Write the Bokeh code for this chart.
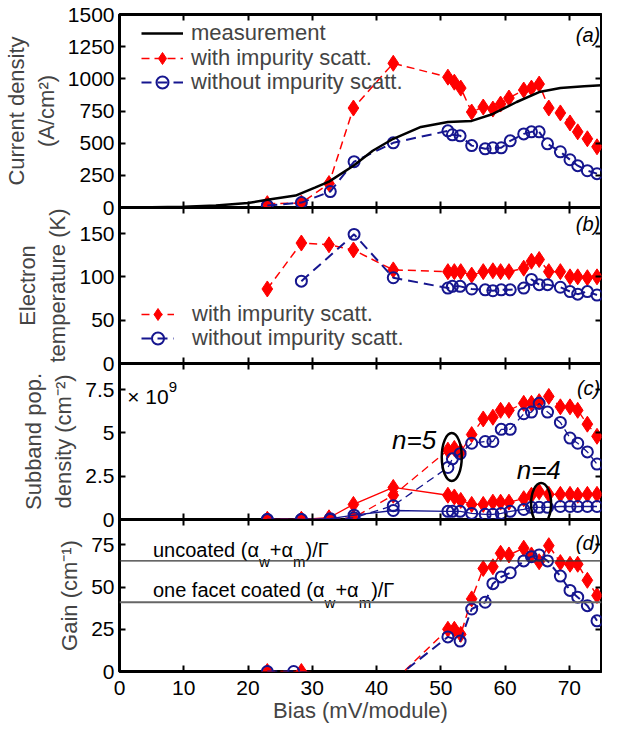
from bokeh.plotting import figure
from bokeh.models import (LinearAxis, FixedTicker, CustomJSTickFormatter, Legend,
                          LegendItem, Range1d, Span)
from bokeh.layouts import column
from bokeh.embed import file_html
from bokeh.resources import INLINE
from bokeh.core.properties import value

# ---------------- data ----------------
x_ticks = [0, 10, 20, 30, 40, 50, 60, 70]

bias_with = [23.0, 28.3, 32.6, 36.4, 42.6, 51.1, 52.1, 53.1, 54.8, 56.6, 58.1, 59.3,
             60.6, 62.9, 64.1, 65.3, 66.8, 68.6, 70.1, 71.3, 72.8, 74.3]
bias_without = [23.0, 28.3, 32.8, 36.5, 42.6, 51.1, 51.8, 53.0, 54.8, 56.9, 58.1, 59.4,
                60.8, 62.9, 64.1, 65.3, 66.6, 68.6, 70.1, 71.3, 72.8, 74.3]

# (a) current density
meas_bias = [0, 5, 10, 15, 20, 23, 27.4, 30.4, 32.6, 36.4, 39.4, 42.6, 46.9, 51.1,
             54.8, 58.1, 61.8, 65.3, 68.6, 72.3, 75]
meas_current = [0, 1, 5, 15, 35, 60, 93, 155, 201, 325, 441, 534, 626, 665,
                673, 727, 820, 897, 928, 943, 951]
current_with = [30, 35, 186, 773, 1121, 1013, 974, 928, 742, 781, 765, 804, 851, 913,
                928, 959, 773, 735, 657, 588, 534, 472]
current_without = [15, 38, 124, 356, 503, 596, 565, 557, 481, 456, 464, 464, 518, 572,
                   588, 588, 495, 433, 371, 325, 286, 263]

# (b) electron temperature
temp_with = [86, 139, 137, 131, 108, 106, 106, 106, 102, 106, 107, 106, 106, 110,
             118, 120, 106, 106, 100, 100, 99, 100]
bias_without_b = [28.3, 36.5, 42.6, 51.1, 51.8, 53.0, 54.8, 56.9, 58.1, 59.4, 60.8,
                  62.9, 64.1, 65.3, 66.6, 68.6, 70.1, 71.3, 72.8, 74.3]
temp_without = [95, 149, 99, 87, 89, 89, 86, 85, 84, 85, 85, 87, 97, 91, 91, 88,
                83, 80, 83, 79]

# (c) subband population (x 1e9 cm^-2)
pop5_with = [0, 0, 0.05, 0.1, 1.4, 4.0, 4.1, 3.9, 4.9, 5.8, 5.9, 6.3, 6.3, 6.7, 6.7,
             6.8, 7.1, 6.5, 6.5, 6.3, 5.5, 4.8]
pop4_with = [0, 0, 0.1, 0.87, 1.85, 1.4, 1.3, 1.1, 0.87, 0.87, 1.0, 1.0, 1.0, 1.2,
             1.4, 1.6, 1.45, 1.45, 1.45, 1.4, 1.45, 1.45]
pop5_without = [0, 0, 0, 0.1, 0.8, 3.0, 3.5, 3.8, 4.4, 4.5, 4.5, 5.2, 5.2, 6.1, 6.2,
                6.7, 6.2, 5.6, 4.7, 4.4, 3.9, 3.2]
pop4_without = [0, 0, 0.05, 0.25, 0.52, 0.47, 0.47, 0.47, 0.35, 0.3, 0.3, 0.35, 0.47,
                0.58, 0.7, 0.7, 0.7, 0.75, 0.75, 0.75, 0.75, 0.75]

# (d) gain
bias_with_d = [23.0, 28.3, 42.6, 51.1, 52.1, 53.1, 54.8, 56.6, 58.1, 59.3, 60.6, 62.9,
               64.1, 65.3, 66.8, 68.6, 70.1, 71.3, 72.8, 74.3]
gain_with = [0, 0, -6, 25, 25, 22, 43, 61, 62, 70, 69, 73, 69, 65, 74.5, 64.5, 63.5,
             63.5, 54, 45]
bias_without_d = [23.0, 27.1, 42.6, 51.1, 53.0, 54.8, 56.9, 58.1, 59.4, 60.8, 62.9,
                  64.1, 65.3, 66.6, 68.6, 70.1, 71.3, 72.8, 74.3]
gain_without = [0, 0, -5, 20.5, 18, 37, 41, 52, 56, 58.5, 65.5, 68, 69, 65.5, 56.5,
                48, 44, 39, 30]
loss_uncoated = 65.5
loss_coated = 41.0

# ---------------- style ----------------
FONT = "Liberation Sans"
RED = "#ff0000"
BLUE = "#16168f"
FS = "21px"      # tick labels
LS = "22px"      # axis labels / legend
W = 602
LEFT = 108

ADV = {'u': 556, 'n': 556, 'c': 500, 'o': 556, 'a': 556, 't': 278, 'e': 556, 'd': 556,
       ' ': 278, '(': 333, ')': 333, '/': 278, '+': 584, 'f': 278, 'w': 722, 'm': 833,
       'α': 578, 'Γ': 556, '×': 584, '1': 556, '0': 556}


def twidth(s, size):
    return sum(ADV.get(ch, 556) for ch in s) / 1000.0 * size


def blank_fmt():
    return CustomJSTickFormatter(code="return ''")


def make_fig(height, y_end, yticks, ylabel, top, bottom, mtop, xlabels=False, overrides=None):
    p = figure(width=W, height=height, x_range=Range1d(0, 75), y_range=Range1d(0, y_end),
               output_backend="svg", toolbar_location=None,
               x_axis_location=None, y_axis_location=None,
               min_border_left=LEFT, min_border_right=1,
               min_border_top=top, min_border_bottom=bottom,
               margin=(mtop, 0, 0, 0))
    p.grid.visible = False
    p.outline_line_color = "black"
    p.outline_line_width = 3
    p.border_fill_alpha = 0
    p.background_fill_alpha = 0

    def style(ax, ticks, show):
        ax.ticker = FixedTicker(ticks=ticks, minor_ticks=[])
        ax.major_tick_in = 6
        ax.major_tick_out = 0
        ax.minor_tick_in = 0
        ax.minor_tick_out = 0
        ax.major_tick_line_width = 2
        ax.axis_line_color = None
        ax.major_label_text_font = FONT
        ax.major_label_text_font_size = FS
        ax.major_label_text_color = "black"
        if not show:
            ax.formatter = blank_fmt()
            ax.major_label_standoff = 0

    left = LinearAxis()
    style(left, yticks, True)
    left.major_label_standoff = 5
    if overrides:
        left.major_label_overrides = overrides
    left.axis_label = ylabel
    left.axis_label_text_font = FONT
    left.axis_label_text_font_size = LS
    left.axis_label_text_font_style = "normal"
    left.axis_label_standoff = 6
    p.add_layout(left, "left")

    right = LinearAxis()
    style(right, yticks, False)
    p.add_layout(right, "right")

    above = LinearAxis()
    style(above, x_ticks, False)
    p.add_layout(above, "above")

    below = LinearAxis()
    style(below, x_ticks, xlabels)
    if xlabels:
        below.major_label_standoff = 9
        below.axis_label = "Bias (mV/module)"
        below.axis_label_text_font = FONT
        below.axis_label_text_font_size = LS
        below.axis_label_text_font_style = "normal"
        below.axis_label_standoff = 0
    p.add_layout(below, "below")
    return p


def red_series(p, x, y, dash="8 5", width=1.5):
    l = p.line(x, y, line_color=RED, line_width=width, line_dash=dash)
    s = p.scatter(x, y, marker="diamond", size=16, fill_color=RED, line_color=RED)
    return l, s


def blue_series(p, x, y, dash="10 6", width=2):
    l = p.line(x, y, line_color=BLUE, line_width=width, line_dash=dash)
    s = p.scatter(x, y, marker="circle", size=11, fill_color=None, line_color=BLUE,
                  line_width=2)
    return l, s


def legend_row(p, label, renderers, loc, glyph_width, standoff):
    leg = Legend(items=[LegendItem(label=label, renderers=list(renderers))],
                 location=loc, border_line_color=None, background_fill_alpha=0,
                 label_text_font=FONT, label_text_font_size=LS, label_height=30,
                 glyph_height=30, glyph_width=glyph_width, label_standoff=standoff,
                 spacing=0, padding=0, margin=0)
    p.add_layout(leg)


def panel_tag(p, x, y, tag):
    p.text(x=[x], y=[y], text=[tag], text_font=value(FONT), text_font_size="20px",
           text_font_style="italic", text_align="right", text_baseline="top",
           text_color="black")


def rich_text(p, x, y, pieces):
    off = 0.0
    for t, size, dy in pieces:
        p.text(x=[x], y=[y], text=[t], x_offset=off, y_offset=dy,
               text_font=value(FONT), text_font_size=f"{size}px",
               text_align="left", text_baseline="alphabetic", text_color="black")
        off += twidth(t, size)


# ---------------- (a) ----------------
pa = make_fig(219, 1500, [0, 250, 500, 750, 1000, 1250, 1500],
              "Current density\n(A/cm²)", 14, 12, 0)
ra = red_series(pa, bias_with, current_with)
ba = blue_series(pa, bias_without, current_without)
ma = pa.line(meas_bias, meas_current, line_color="black", line_width=2.5)
legend_row(pa, "measurement", [ma], (22, 159), 42, 8)
legend_row(pa, "with impurity scatt.", ra, (22, 134), 42, 8)
legend_row(pa, "without impurity scatt.", ba, (22, 110), 42, 8)
panel_tag(pa, 74.8, 1430, "(a)")

# ---------------- (b) ----------------
pb = make_fig(168, 180, [0, 50, 100, 150], "Electron\ntemperature (K)", 0, 12, -12)
rb = red_series(pb, bias_with, temp_with)
bb = blue_series(pb, bias_without_b, temp_without)
legend_row(pb, "with impurity scatt.", rb, (22, 34), 33, 18)
legend_row(pb, "without impurity scatt.", bb, (22, 10), 33, 18)
panel_tag(pb, 74.8, 174, "(b)")

# ---------------- (c) ----------------
pc = make_fig(168, 9, [0, 2.5, 5, 7.5], "Subband pop.\ndensity (cm⁻²)", 0, 12, -12,
              overrides={0: "0", 2.5: "2.5", 5: "5", 7.5: "7.5"})
red_series(pc, bias_with, pop5_with, dash="8 5", width=1.3)
red_series(pc, bias_with, pop4_with, dash="solid", width=1.3)
blue_series(pc, bias_without, pop5_without, dash="8 5", width=1.3)
blue_series(pc, bias_without, pop4_without, dash="solid", width=1.3)
pc.ellipse(x=[51.7], y=[3.6], width=20, height=48, width_units="screen",
           height_units="screen", fill_color=None, line_color="black", line_width=2.5)
pc.ellipse(x=[65.6], y=[0.9], width=20, height=42, width_units="screen",
           height_units="screen", fill_color=None, line_color="black", line_width=2.5)
pc.text(x=[42.4], y=[4.6], text=["n=5"], text_font=value(FONT), text_font_size="26px",
        text_font_style="italic", text_baseline="alphabetic", text_color="black")
pc.text(x=[61.8], y=[2.85], text=["n=4"], text_font=value(FONT), text_font_size="26px",
        text_font_style="italic", text_baseline="alphabetic", text_color="black")
rich_text(pc, 1.2, 7.1, [("× 10", 21, 0), ("9", 15, -9)])
panel_tag(pc, 74.8, 8.25, "(c)")

# ---------------- (d) ----------------
pd_ = make_fig(206, 90, [0, 25, 50, 75], "Gain (cm⁻¹)", 0, 51, -12, xlabels=True)
pd_.add_layout(Span(location=loss_uncoated, dimension="width", line_color="#333333",
                    line_width=1.3))
pd_.add_layout(Span(location=loss_coated, dimension="width", line_color="#666666",
                    line_width=1.8))
red_series(pd_, bias_with_d, gain_with)
blue_series(pd_, bias_without_d, gain_without)
rich_text(pd_, 5.2, 72, [("uncoated (α", 20, 0), ("w", 15, 12), ("+α", 20, 0),
                         ("m", 15, 12), (")/Γ", 20, 0)])
rich_text(pd_, 5.2, 48, [("one facet coated (α", 20, 0), ("w", 15, 12), ("+α", 20, 0),
                         ("m", 15, 12), (")/Γ", 20, 0)])
panel_tag(pd_, 74.8, 82.5, "(d)")

layout = column(pa, pb, pc, pd_, spacing=0)
open("out.html", "w").write(file_html(layout, INLINE))
